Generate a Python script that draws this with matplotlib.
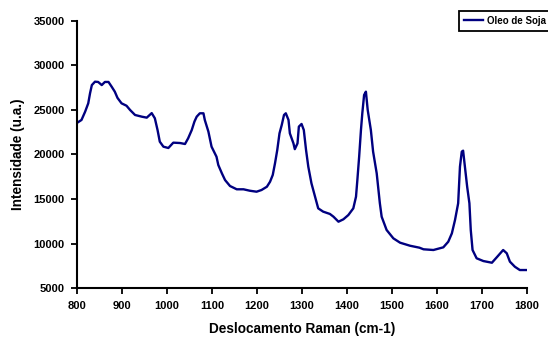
import matplotlib.pyplot as plt

plt.rcParams['font.family'] = ['Liberation Sans', 'DejaVu Sans']
plt.rcParams['font.weight'] = 'bold'

# Raman spectrum of soybean oil
shift = [800, 810, 818, 825, 829, 833, 840, 847, 855, 862, 870, 877, 884, 890,
         899, 910, 918, 929, 944, 955, 966, 973, 979, 984, 992, 1003, 1014,
         1029, 1040, 1047, 1055, 1061, 1066, 1073, 1081, 1084, 1092, 1099,
         1110, 1114, 1122, 1129, 1140, 1155, 1170, 1184, 1199, 1210, 1222,
         1229, 1235, 1240, 1245, 1250, 1255, 1260, 1264, 1270, 1273, 1281,
         1284, 1290, 1293, 1299, 1304, 1309, 1314, 1321, 1329, 1336, 1347,
         1362, 1370, 1381, 1392, 1403, 1414, 1420, 1423, 1427, 1431, 1434,
         1438, 1442, 1446, 1453, 1458, 1466, 1473, 1477, 1488, 1503, 1518,
         1540, 1561, 1570, 1592, 1614, 1625, 1633, 1640, 1647, 1651, 1655,
         1658, 1662, 1667, 1672, 1675, 1679, 1688, 1703, 1722, 1734, 1747,
         1755, 1762, 1773, 1784, 1800]
intensity = [23550, 23880, 24800, 25750, 26880, 27800, 28180, 28150, 27800,
             28150, 28150, 27620, 27060, 26360, 25750, 25480, 25000, 24440,
             24250, 24140, 24650, 24070, 22750, 21440, 20880, 20730, 21330,
             21290, 21180, 21820, 22750, 23700, 24250, 24630, 24630, 23880,
             22570, 20880, 19750, 18820, 17880, 17130, 16460, 16090, 16090,
             15930, 15820, 16010, 16380, 16940, 17700, 19010, 20500, 22380,
             23320, 24440, 24630, 23880, 22380, 21250, 20600, 21250, 23130,
             23430, 22750, 20500, 18630, 16760, 15260, 13950, 13580, 13320,
             13010, 12450, 12720, 13200, 13950, 15260, 17130, 19760, 22750,
             24630, 26690, 27060, 25000, 22750, 20320, 17880, 14520, 13010,
             11520, 10580, 10090, 9750, 9530, 9350, 9270, 9570, 10200, 11140,
             12640, 14520, 18630, 20320, 20430, 18630, 16380, 14520, 11520,
             9270, 8340, 8030, 7840, 8520, 9270, 8900, 7960, 7390, 7020, 7020]

fig = plt.figure(figsize=(5.48, 3.38), dpi=100)
ax = fig.add_axes([0.1405, 0.1479, 0.8212, 0.79])

ax.plot(shift, intensity, color='#000080', linewidth=1.7, label='Oleo de Soja')

ax.set_xlim(800, 1800)
ax.set_ylim(5000, 35000)
ax.set_xticks(range(800, 1801, 100))
ax.set_yticks(range(5000, 35001, 5000))
ax.tick_params(direction='out', length=4, width=1.3, labelsize=8, pad=5)
for lab in ax.get_xticklabels() + ax.get_yticklabels():
    lab.set_fontweight('bold')

ax.spines['top'].set_visible(False)
ax.spines['right'].set_visible(False)
ax.spines['left'].set_linewidth(1.5)
ax.spines['bottom'].set_linewidth(1.5)

ax.set_xlabel('Deslocamento Raman (cm-1)', fontsize=9.8, fontweight='bold', labelpad=8)
ax.set_ylabel('Intensidade (u.a.)', fontsize=9.8, fontweight='bold', labelpad=6)

leg = fig.legend(loc='upper left', bbox_to_anchor=(459 / 548, 1 - 11 / 338),
                 fancybox=False, framealpha=1, edgecolor='black',
                 prop={'size': 7, 'weight': 'bold'}, handlelength=2.0,
                 borderpad=0.5, handletextpad=0.4, borderaxespad=0)
leg.get_frame().set_linewidth(1.3)

plt.savefig('out.png', dpi=100)
plt.close()
